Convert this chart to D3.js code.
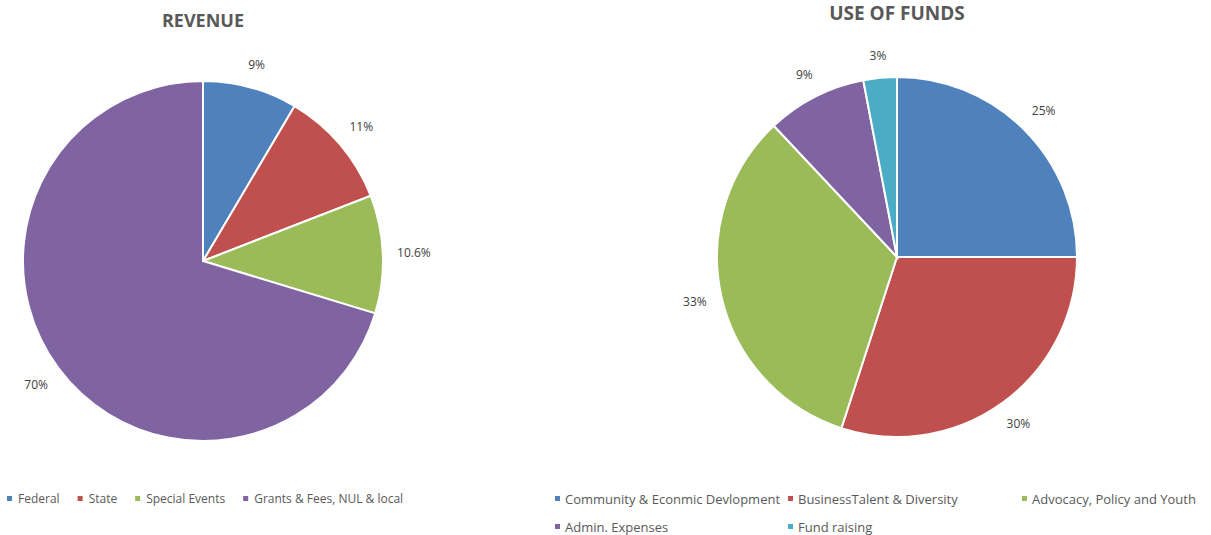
<!DOCTYPE html>
<html>
<head>
<meta charset="utf-8">
<script src="https://cdn.jsdelivr.net/npm/d3@7"></script>
<style>
  body { margin: 0; background: #fff; }
  text { font-family: "Open Sans", "Liberation Sans", sans-serif; }
</style>
</head>
<body>
<svg id="chart"></svg>
<script>
// colours (Excel 2010 palette)
const blue = "#4F81BD";
const red = "#C0504D";
const green = "#9BBB59";
const purple = "#8064A2";
const aqua = "#4BACC6";
const textDark = "#404040";
const titleGrey = "#595959";

// revenue pie
const revenueCategories = ["Federal", "State", "Special Events", "Grants & Fees, NUL & local"];
const revenueValues = [8.5, 10.6, 10.6, 70.3];
const revenueLabels = ["9%", "11%", "10.6%", "70%"];

// use of funds pie
const fundsCategories = ["Community & Econmic Devlopment", "BusinessTalent & Diversity", "Advocacy, Policy and Youth", "Admin. Expenses", "Fund raising"];
const fundsValues = [25, 30, 33, 9, 3];
const fundsLabels = ["25%", "30%", "33%", "9%", "3%"];

const width = 1211;
const height = 535;
const radius = 180;
const labelGap = 194; // anchor radius for outside-end labels

const svg = d3.select("#chart")
  .attr("width", width)
  .attr("height", height);

function drawPie(opts) {
  const g = svg.append("g")
    .attr("transform", `translate(${opts.cx}, ${opts.cy})`);

  const color = d3.scaleOrdinal()
    .domain(opts.categories)
    .range(opts.colors);

  const pie = d3.pie().sort(null).value(d => d.value);
  const arcs = pie(opts.categories.map((c, i) => ({ cat: c, value: opts.values[i], label: opts.labels[i] })));

  const arc = d3.arc().innerRadius(0).outerRadius(radius);

  g.selectAll(".slice")
    .data(arcs)
    .enter()
    .append("path")
    .attr("class", "slice")
    .attr("d", arc)
    .attr("fill", d => color(d.data.cat))
    .attr("stroke", "#fff")
    .attr("stroke-width", 2);

  // labels sit just outside the rim, pushed out by half their box
  g.selectAll(".lbl")
    .data(arcs)
    .enter()
    .append("text")
    .attr("class", "lbl")
    .attr("text-anchor", "middle")
    .attr("dy", "0.35em")
    .attr("fill", textDark)
    .style("font-size", "12px")
    .text(d => d.data.label)
    .each(function (d) {
      const a = (d.startAngle + d.endAngle) / 2;
      const s = Math.sin(a), c = Math.cos(a);
      const w = this.getComputedTextLength();
      const r = labelGap + (w / 2) * Math.abs(s) + 7 * Math.abs(c);
      d3.select(this).attr("transform", `translate(${r * s}, ${-r * c})`);
    });

  svg.append("text")
    .attr("x", opts.cx)
    .attr("y", opts.titleY)
    .attr("text-anchor", "middle")
    .attr("fill", titleGrey)
    .style("font-size", opts.titleSize)
    .style("font-weight", "bold")
    .text(opts.title);

  return color;
}

const revColor = drawPie({
  cx: 203, cy: 261, titleY: 27, titleSize: "18px",
  title: "REVENUE",
  categories: revenueCategories,
  values: revenueValues,
  labels: revenueLabels,
  colors: [blue, red, green, purple]
});

const fundColor = drawPie({
  cx: 897, cy: 257, titleY: 20, titleSize: "19px",
  title: "USE OF FUNDS",
  categories: fundsCategories,
  values: fundsValues,
  labels: fundsLabels,
  colors: [blue, red, green, purple, aqua]
});

// left legend: flowing items
let lx = 7;
revenueCategories.forEach(c => {
  const item = svg.append("g").attr("transform", `translate(${lx}, 499)`);
  item.append("rect")
    .attr("x", 0).attr("y", -3)
    .attr("width", 5).attr("height", 5)
    .attr("fill", revColor(c));
  const t = item.append("text")
    .attr("x", 11)
    .attr("dy", "0.35em")
    .attr("fill", titleGrey)
    .style("font-size", "12px")
    .text(c);
  lx += 11 + t.node().getComputedTextLength() + 18;
});

// right legend: three columns
const colX = [555, 788, 1022];
fundsCategories.forEach((c, i) => {
  const item = svg.append("g")
    .attr("transform", `translate(${colX[i % 3]}, ${499 + Math.floor(i / 3) * 28})`);
  item.append("rect")
    .attr("x", 0).attr("y", -3)
    .attr("width", 5).attr("height", 5)
    .attr("fill", fundColor(c));
  item.append("text")
    .attr("x", 10)
    .attr("dy", "0.35em")
    .attr("fill", titleGrey)
    .style("font-size", "13px")
    .text(c);
});
</script>
</body>
</html>
